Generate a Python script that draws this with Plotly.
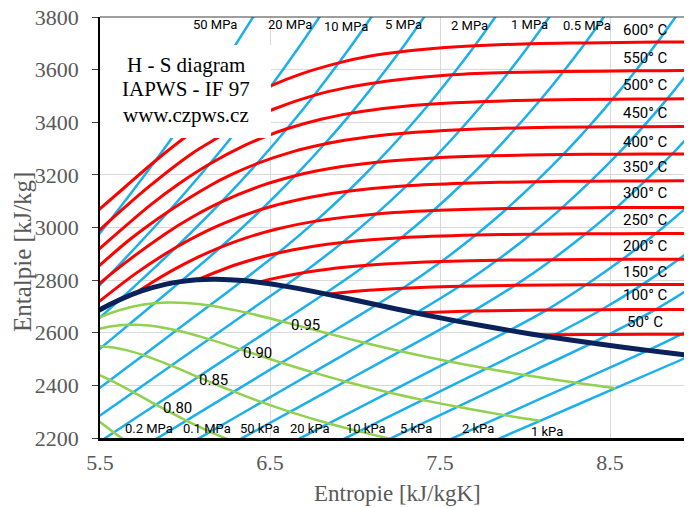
import plotly.graph_objects as go

# ---------------- data: entropy s [kJ/kgK], enthalpy h [kJ/kg] ----------------
# isobars
P50MPA_S = [5.1762, 5.5563, 5.8245, 6.0373, 6.2179, 6.5225]
P50MPA_H = [2722.5, 3025.1, 3252.6, 3443.5, 3614.6, 3925.8]
P20MPA_S = [5.2604, 5.5525, 5.9043, 6.1446, 6.3390, 6.5075, 6.6593, 6.7991]
P20MPA_H = [2621.8, 2816.9, 3061.7, 3241.2, 3396.2, 3539.0, 3675.3, 3807.8]
P10MPA_S = [5.3905, 5.5032, 5.6160, 5.7596, 5.9459, 6.2141, 6.4219, 6.5995, 6.7585, 6.9045, 7.0408, 7.1693]
P10MPA_H = [2593.8, 2659.7, 2725.5, 2810.3, 2924.0, 3097.5, 3242.4, 3375.1, 3502.0, 3625.8, 3748.1, 3870.0]
P5MPA_S = [5.3631, 5.5158, 5.6684, 5.8211, 5.9737, 6.2111, 6.4516, 6.6483, 6.8210, 6.9781, 7.2605, 7.5136]
P5MPA_H = [2466.3, 2548.2, 2630.2, 2712.2, 2794.2, 2925.7, 3069.3, 3196.7, 3317.2, 3434.7, 3666.9, 3900.3]
P2MPA_S = [5.3659, 5.5605, 5.7552, 5.9498, 6.1444, 6.3390, 6.5475, 6.7684, 6.9583, 7.1292, 7.2866, 7.4337, 7.7043, 7.9509]
P2MPA_H = [2325.8, 2420.3, 2514.8, 2609.3, 2703.8, 2798.3, 2903.3, 3024.2, 3137.7, 3248.4, 3358.2, 3468.3, 3690.7, 3918.2]
P1MPA_S = [5.2510, 5.4734, 5.6957, 5.9181, 6.1404, 6.3628, 6.5850, 6.6956, 6.9265, 7.1246, 7.3029, 7.4670, 7.7642, 8.0311, 8.2755]
P1MPA_H = [2172.7, 2273.5, 2374.2, 2474.9, 2575.6, 2676.4, 2777.1, 2828.3, 2943.1, 3051.6, 3158.2, 3264.5, 3479.1, 3698.6, 3923.6]
P05MPA_S = [5.3326, 5.5806, 5.8286, 6.0767, 6.3247, 6.5727, 6.8207, 7.0610, 7.2725, 7.4614, 7.6346, 7.7956, 8.0893, 8.3544, 8.5978]
P05MPA_H = [2115.7, 2221.1, 2326.5, 2431.9, 2537.3, 2642.7, 2748.1, 2855.8, 2961.0, 3064.6, 3168.1, 3272.4, 3484.5, 3701.5, 3925.9]
P02MPA_S = [5.7278, 6.0076, 6.2875, 6.5673, 6.8472, 7.1270, 7.2810, 7.5081, 7.7100, 7.8941, 8.2236, 8.5153, 8.7793, 9.0221]
P02MPA_H = [2155.9, 2266.0, 2376.1, 2486.1, 2596.2, 2706.3, 2769.1, 2870.7, 2971.2, 3072.1, 3277.0, 3487.7, 3704.8, 3927.0]
P01MPA_S = [5.8450, 6.1478, 6.4506, 6.7534, 7.0562, 7.3588, 7.6148, 7.8356, 8.0346, 8.2172, 8.5452, 8.8362, 9.0999]
P01MPA_H = [2110.6, 2223.5, 2336.4, 2449.3, 2562.1, 2674.9, 2776.6, 2875.5, 2974.5, 3074.5, 3278.6, 3488.7, 3705.6]
P50KPA_S = [5.9676, 6.2927, 6.6178, 6.9429, 7.2680, 7.5931, 7.6953, 7.9413, 8.1592, 8.3568, 8.5387, 8.8659, 9.1566]
P50KPA_H = [2069.1, 2184.3, 2299.5, 2414.8, 2530.0, 2645.2, 2682.4, 2780.2, 2877.8, 2976.1, 3075.7, 3279.5, 3489.3]
P20KPA_S = [6.4922, 6.8459, 7.1997, 7.5534, 7.9073, 8.1262, 8.3590, 8.5731, 8.7689, 8.9500, 9.2779]
P20KPA_H = [2137.4, 2255.3, 2373.2, 2491.0, 2608.9, 2686.2, 2782.3, 2879.2, 2977.2, 3076.5, 3280.0]
P10KPA_S = [6.6489, 7.0239, 7.3988, 7.7738, 8.1488, 8.4489, 8.6893, 8.9049, 9.1015]
P10KPA_H = [2105.5, 2225.1, 2344.7, 2464.3, 2583.9, 2687.5, 2783.0, 2879.6, 2977.5]
P5KPA_S = [6.8103, 7.2062, 7.6020, 7.9979, 8.3938, 8.4940, 8.7690, 9.0090]
P5KPA_H = [2076.2, 2197.3, 2318.5, 2439.6, 2560.7, 2593.5, 2688.6, 2783.5]
P2KPA_S = [7.4534, 7.8765, 8.2996, 8.7227, 8.9170, 9.1920]
P2KPA_H = [2164.0, 2287.0, 2409.9, 2533.0, 2594.2, 2688.9]
P1KPA_S = [7.6446, 8.0880, 8.5315, 8.9749, 9.2370]
P1KPA_H = [2141.0, 2265.3, 2389.5, 2513.7, 2594.5]

# isotherms
T600_S = [9.4200, 9.0999, 8.7793, 8.3544, 8.0311, 7.7043, 7.5103, 7.2605, 7.0910, 6.9045, 6.6797, 6.5075, 6.3637, 6.2373, 6.0170, 5.8245, 5.6527, 5.4900]
T600_H = [3705.9, 3705.6, 3704.8, 3701.5, 3698.6, 3690.7, 3682.8, 3666.9, 3651.6, 3625.8, 3583.1, 3539.0, 3493.5, 3443.5, 3350.4, 3252.6, 3156.8, 3066.0]
T550_S = [9.2900, 8.9700, 8.6500, 8.2240, 7.9000, 7.5720, 7.3770, 7.1237, 6.9507, 6.7585, 6.5230, 6.3390, 6.1816, 6.0373, 5.7857, 5.5563, 5.3517]
T550_H = [3597.0, 3596.5, 3595.6, 3592.5, 3588.6, 3580.2, 3569.8, 3550.3, 3531.6, 3502.0, 3450.4, 3396.2, 3337.0, 3279.7, 3154.4, 3025.1, 2901.9]
T500_S = [9.1566, 8.8362, 8.5153, 8.0893, 7.7642, 7.4337, 7.2359, 7.0922, 6.9781, 6.8000, 6.5995, 6.4651, 6.3479, 6.1446, 5.9642, 5.7956, 5.4744]
T500_H = [3489.3, 3488.7, 3487.7, 3484.5, 3479.1, 3468.3, 3457.2, 3446.0, 3434.7, 3411.4, 3375.1, 3343.6, 3310.8, 3241.2, 3166.1, 3084.8, 2906.5]
T450_S = [9.0150, 8.6940, 8.3720, 7.9470, 7.6200, 7.2866, 7.0856, 6.9386, 6.8210, 6.6353, 6.4219, 6.2749, 6.1433, 5.9043, 5.6753, 5.4420]
T450_H = [3383.5, 3383.2, 3382.4, 3378.4, 3371.3, 3358.2, 3344.9, 3331.2, 3317.2, 3288.3, 3242.4, 3201.5, 3157.9, 3061.7, 2954.3, 2824.0]
T400_S = [9.2779, 8.8659, 8.5452, 8.2236, 7.7956, 7.4670, 7.1292, 6.9235, 6.7714, 6.6483, 6.4502, 6.2141, 6.0433, 5.8830, 5.5525, 5.1455]
T400_H = [3280.0, 3279.5, 3278.6, 3277.0, 3272.4, 3264.5, 3248.4, 3231.7, 3214.5, 3196.7, 3159.2, 3097.5, 3040.0, 2975.7, 2816.9, 2582.0]
T350_S = [9.1200, 8.7070, 8.3870, 8.0640, 7.6346, 7.3029, 6.9583, 6.7450, 6.5843, 6.4516, 6.2305, 6.1321, 5.9459, 5.7130, 5.4444]
T350_H = [3178.0, 3177.0, 3176.2, 3174.2, 3168.1, 3158.2, 3137.7, 3116.1, 3093.3, 3069.3, 3016.9, 2988.1, 2924.0, 2826.6, 2692.9]
T300_S = [9.2827, 8.9500, 8.5387, 8.2172, 7.8941, 7.4614, 7.1246, 6.7684, 6.5412, 6.3639, 6.2111, 6.0703, 5.9337, 5.7937, 5.7059]
T300_H = [3076.7, 3076.5, 3075.7, 3074.5, 3072.1, 3064.6, 3051.6, 3024.2, 2994.3, 2961.7, 2925.7, 2885.6, 2839.9, 2786.5, 2749.6]
T250_S = [9.1015, 8.7689, 8.3568, 8.0346, 7.7100, 7.2725, 6.9265, 6.7488, 6.5475, 6.2893, 6.0729]
T250_H = [2977.5, 2977.2, 2976.1, 2974.5, 2971.2, 2961.0, 2943.1, 2927.9, 2903.3, 2856.5, 2801.0]
T200_S = [9.2250, 8.9049, 8.5731, 8.1592, 7.8356, 7.5081, 7.1723, 6.9683, 6.8177, 6.6956, 6.4975, 6.4302]
T200_H = [2879.9, 2879.6, 2879.2, 2877.8, 2875.5, 2870.7, 2860.9, 2850.6, 2839.8, 2828.3, 2803.0, 2792.0]
T150_S = [9.0090, 8.6893, 8.3590, 7.9413, 7.6148, 7.2810, 7.0792, 6.9306, 6.8371]
T150_H = [2783.5, 2783.0, 2782.3, 2780.2, 2776.6, 2769.1, 2761.2, 2752.8, 2745.9]
T100_S = [9.1920, 8.7690, 8.4489, 8.1262, 7.6953, 7.3542]
T100_H = [2688.9, 2688.6, 2687.5, 2686.2, 2682.4, 2675.6]
T50_S = [9.2370, 8.9170, 8.4940, 8.1741, 8.0748]
T50_H = [2594.5, 2594.2, 2593.5, 2592.0, 2591.3]

# saturated vapour line
SAT_S = [5.3727, 5.4939, 5.6160, 5.7450, 5.8902, 5.9737, 6.0696, 6.1856, 6.3390, 6.4430, 6.5850, 6.7593,
         6.8955, 7.1270, 7.3588, 7.5931, 7.7675, 7.9073, 8.1488, 8.3938, 8.5765, 8.7227, 8.9749, 9.1556]
SAT_H = [2637.9, 2685.4, 2725.5, 2758.7, 2784.6, 2794.2, 2801.4, 2803.2, 2798.3, 2791.0, 2777.1, 2756.2,
         2738.1, 2706.3, 2674.9, 2645.2, 2624.6, 2608.9, 2583.9, 2560.7, 2544.8, 2533.0, 2513.7, 2501.3]

# constant dryness lines
X95_S = [5.3940, 5.5032, 5.6182, 5.7471, 5.8211, 5.9060, 6.0086, 6.1444, 6.3628, 6.5727, 6.8472, 7.0562, 7.2680, 7.5534, 7.7738, 7.9979, 8.2996, 8.5315]
X95_H = [2625.7, 2659.7, 2686.4, 2706.1, 2712.2, 2715.2, 2713.5, 2703.8, 2676.4, 2642.7, 2596.2, 2562.1, 2530.0, 2491.0, 2464.3, 2439.6, 2409.9, 2389.5]
X90_S = [5.3905, 5.4913, 5.6039, 5.6684, 5.7424, 5.8316, 5.9498, 6.1404, 6.3247, 6.5673, 6.7534, 6.9429, 7.1997, 7.3988, 7.6020, 7.8765, 8.0880]
X90_H = [2593.8, 2614.4, 2627.5, 2630.2, 2629.6, 2623.7, 2609.3, 2575.6, 2537.3, 2486.1, 2449.3, 2414.8, 2373.2, 2344.7, 2318.5, 2287.0, 2265.3]
X85_S = [5.3645, 5.4608, 5.5158, 5.5787, 5.6546, 5.7552, 5.9181, 6.0767, 6.2875, 6.4506, 6.6178, 6.8459, 7.0239, 7.2062, 7.4534]
X85_H = [2542.3, 2549.0, 2548.2, 2543.9, 2534.0, 2514.8, 2474.9, 2431.9, 2376.1, 2336.4, 2299.5, 2255.3, 2225.1, 2197.3, 2164.0]
X80_S = [5.3631, 5.4151, 5.4776, 5.5605, 5.6957, 5.8286, 6.0076, 6.1478, 6.2927]
X80_H = [2466.3, 2458.2, 2444.2, 2420.3, 2374.2, 2326.5, 2266.0, 2223.5, 2184.3]
X75_S = [5.3006, 5.3659, 5.4734, 5.5806, 5.7278]
X75_H = [2354.5, 2325.8, 2273.5, 2221.1, 2155.9]

ISOBARS = [(P50MPA_S, P50MPA_H), (P20MPA_S, P20MPA_H), (P10MPA_S, P10MPA_H), (P5MPA_S, P5MPA_H),
           (P2MPA_S, P2MPA_H), (P1MPA_S, P1MPA_H), (P05MPA_S, P05MPA_H), (P02MPA_S, P02MPA_H),
           (P01MPA_S, P01MPA_H), (P50KPA_S, P50KPA_H), (P20KPA_S, P20KPA_H), (P10KPA_S, P10KPA_H),
           (P5KPA_S, P5KPA_H), (P2KPA_S, P2KPA_H), (P1KPA_S, P1KPA_H)]
ISOTHERMS = [(T600_S, T600_H), (T550_S, T550_H), (T500_S, T500_H), (T450_S, T450_H), (T400_S, T400_H),
             (T350_S, T350_H), (T300_S, T300_H), (T250_S, T250_H), (T200_S, T200_H), (T150_S, T150_H),
             (T100_S, T100_H), (T50_S, T50_H)]
DRYNESS = [(X95_S, X95_H), (X90_S, X90_H), (X85_S, X85_H), (X80_S, X80_H), (X75_S, X75_H)]

TOP_PRESSURE_LABELS = ["50 MPa", "20 MPa", "10 MPa", "5 MPa", "2 MPa", "1 MPa", "0.5 MPa"]
BOTTOM_PRESSURE_LABELS = ["0.2 MPa", "0.1 MPa", "50 kPa", "20 kPa", "10 kPa", "5 kPa", "2 kPa", "1 kPa"]
TEMP_LABELS = ["600° C", "550° C", "500° C", "450° C", "400° C", "350° C", "300° C", "250° C",
               "200° C", "150° C", "100° C", "50° C"]
DRYNESS_LABELS = ["0.95", "0.90", "0.85", "0.80"]
INFO_LINES = ["H - S diagram", "IAPWS - IF 97", "www.czpws.cz"]

# label placement (data coordinates)
TOP_LABEL_POS = [(6.176, 3770), (6.618, 3770), (6.947, 3763), (7.288, 3770), (7.676, 3767), (8.029, 3770), (8.365, 3767)]
BOTTOM_LABEL_POS = [(5.788, 2238), (6.129, 2238), (6.441, 2238), (6.735, 2238), (7.065, 2238), (7.359, 2238), (7.724, 2235), (8.129, 2223)]
TEMP_LABEL_Y = [3751, 3644, 3542, 3435, 3325, 3230, 3131, 3028, 2930, 2831, 2743, 2641]
DRYNESS_LABEL_POS = [(6.706, 2629), (6.429, 2523), (6.165, 2420), (5.953, 2314)]
INFO_LINE_Y = [3618, 3526, 3428]

BLUE = "#1BB0EC"
RED = "#FF0000"
NAVY = "#0B2159"
GREEN = "#92D050"
AXIS_GRAY = "#595959"
LABEL_FONT = "Roboto"
SERIF = "Liberation Serif"

fig = go.Figure()

for s, h in ISOBARS:
    fig.add_trace(go.Scatter(x=s, y=h, mode="lines", line=dict(color=BLUE, width=2.5, shape="spline", smoothing=0.8),
                             hoverinfo="skip"))
for s, h in DRYNESS:
    fig.add_trace(go.Scatter(x=s, y=h, mode="lines", line=dict(color=GREEN, width=2.5, shape="spline", smoothing=0.8),
                             hoverinfo="skip"))
for s, h in ISOTHERMS:
    fig.add_trace(go.Scatter(x=s, y=h, mode="lines", line=dict(color=RED, width=3, shape="spline", smoothing=0.8),
                             hoverinfo="skip"))
fig.add_trace(go.Scatter(x=SAT_S, y=SAT_H, mode="lines", line=dict(color=NAVY, width=5, shape="spline", smoothing=0.8),
                         hoverinfo="skip"))

annotations = []
for text, (x, y) in zip(TOP_PRESSURE_LABELS, TOP_LABEL_POS):
    annotations.append(dict(x=x, y=y, text=text, showarrow=False, font=dict(family=LABEL_FONT, size=13, color="black")))
for text, (x, y) in zip(BOTTOM_PRESSURE_LABELS, BOTTOM_LABEL_POS):
    annotations.append(dict(x=x, y=y, text=text, showarrow=False, font=dict(family=LABEL_FONT, size=13, color="black")))
for text, y in zip(TEMP_LABELS, TEMP_LABEL_Y):
    annotations.append(dict(x=8.706, y=y, text=text, showarrow=False, font=dict(family=LABEL_FONT, size=15, color="black")))
for text, (x, y) in zip(DRYNESS_LABELS, DRYNESS_LABEL_POS):
    annotations.append(dict(x=x, y=y, text=text, showarrow=False, font=dict(family=LABEL_FONT, size=15, color="black")))
for text, y in zip(INFO_LINES, INFO_LINE_Y):
    annotations.append(dict(x=6.006, y=y, text=text, showarrow=False, font=dict(family=SERIF, size=21, color="black")))

annotations.append(dict(xref="paper", yref="paper", x=0.5017, y=-0.133, xanchor="center", yanchor="middle",
                        text="Entropie [kJ/kgK]", showarrow=False,
                        font=dict(family=SERIF, size=23, color=AXIS_GRAY)))
annotations.append(dict(xref="paper", yref="paper", x=-0.1318, y=0.4418, xanchor="center", yanchor="middle",
                        text="Entalpie [kJ/kg]", showarrow=False, textangle=-90,
                        font=dict(family=SERIF, size=25, color=AXIS_GRAY)))

# the page body adds an 8px offset, so the figure is sized to end at the window edge
fig.update_layout(
    width=684,
    height=500,
    margin=dict(l=92, r=0, t=9, b=70),
    plot_bgcolor="white",
    paper_bgcolor="white",
    showlegend=False,
    hovermode=False,
    annotations=annotations,
    shapes=[
        dict(type="rect", xref="x", yref="y", x0=5.5, x1=6.506, y0=3340, y1=3694,
             fillcolor="white", line=dict(width=0), layer="above"),
        dict(type="line", xref="paper", yref="paper", x0=0, x1=1, y0=1, y1=1,
             line=dict(color="#404040", width=1.2), layer="above"),
    ],
)
fig.update_xaxes(
    range=[5.5, 8.982],
    tickvals=[5.5, 6.5, 7.5, 8.5],
    ticktext=["5.5", "6.5", "7.5", "8.5"],
    showgrid=True, gridcolor="#D9D9D9", gridwidth=1,
    showline=True, linecolor="black", linewidth=2.5,
    ticks="", ticklabelstandoff=3, automargin=False, ticklabeloverflow="allow",
    tickfont=dict(family=SERIF, size=22, color=AXIS_GRAY),
    zeroline=False,
)
fig.update_yaxes(
    range=[2200, 3800],
    tickvals=[2200, 2400, 2600, 2800, 3000, 3200, 3400, 3600, 3800],
    showgrid=True, gridcolor="#D9D9D9", gridwidth=1,
    showline=True, linecolor="black", linewidth=1.5,
    ticks="outside", ticklen=6, tickcolor="#404040", tickwidth=1,
    ticklabelstandoff=9, automargin=False, ticklabeloverflow="allow",
    tickfont=dict(family=SERIF, size=22, color=AXIS_GRAY),
    zeroline=False,
)

fig.write_html("out.html")
